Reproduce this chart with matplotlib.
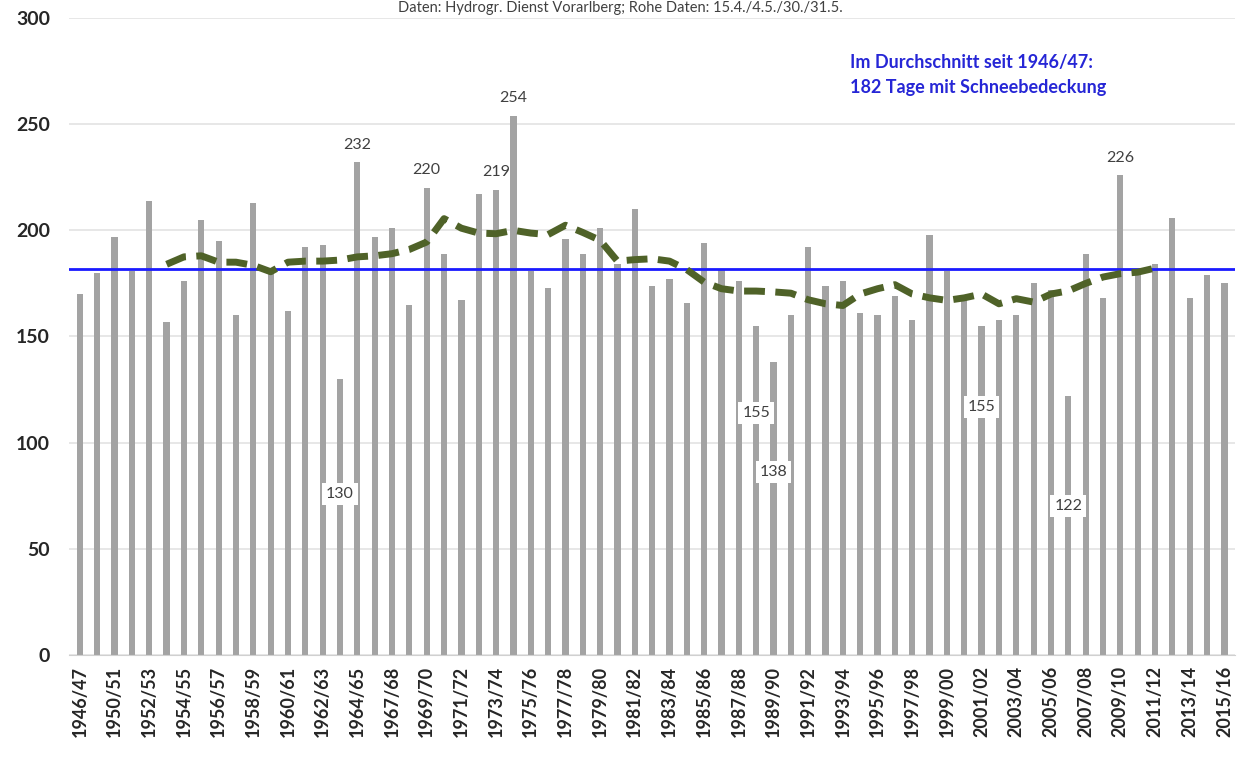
import matplotlib
matplotlib.use('Agg')
import matplotlib.pyplot as plt
import numpy as np

plt.rcParams['font.family'] = ['Lato', 'DejaVu Sans']

# Winter seasons (1947/48, 1948/49 and 1966/67 are not in the record)
seasons = ['1946/47', '1949/50', '1950/51', '1951/52', '1952/53', '1953/54', '1954/55',
           '1955/56', '1956/57', '1957/58', '1958/59', '1959/60', '1960/61', '1961/62',
           '1962/63', '1963/64', '1964/65', '1965/66', '1967/68', '1968/69', '1969/70',
           '1970/71', '1971/72', '1972/73', '1973/74', '1974/75', '1975/76', '1976/77',
           '1977/78', '1978/79', '1979/80', '1980/81', '1981/82', '1982/83', '1983/84',
           '1984/85', '1985/86', '1986/87', '1987/88', '1988/89', '1989/90', '1990/91',
           '1991/92', '1992/93', '1993/94', '1994/95', '1995/96', '1996/97', '1997/98',
           '1998/99', '1999/00', '2000/01', '2001/02', '2002/03', '2003/04', '2004/05',
           '2005/06', '2006/07', '2007/08', '2008/09', '2009/10', '2010/11', '2011/12',
           '2012/13', '2013/14', '2014/15', '2015/16']

# days with snow cover
days = [170, 180, 197, 181, 214, 157, 176, 205, 195, 160,
        213, 181, 162, 192, 193, 130, 232, 197, 201, 165,
        220, 189, 167, 217, 219, 254, 181, 173, 196, 189,
        201, 184, 210, 174, 177, 166, 194, 182, 176, 155,
        138, 160, 192, 174, 176, 161, 160, 169, 158, 198,
        181, 167, 155, 158, 160, 175, 172, 122, 189, 168,
        226, 180, 184, 206, 168, 179, 175]

# smoothed trend (dashed line), seasons 1953/54 .. 2011/12
trend_start = 5
trend = [184, 187.5, 188, 185, 185, 183.5, 180.5, 185, 185.5, 185.5,
         186, 187.5, 188, 189, 191, 194.5, 205.5, 201, 198.7, 198.4,
         200, 198.7, 198, 202.4, 199, 195.3, 185.5, 186.2, 186.6, 185.5,
         181.5, 175.6, 172.5, 171.4, 171.4, 171, 170.4, 167.3, 165.4, 164.6,
         170, 172.5, 174.4, 170, 168.2, 167, 168.2, 170, 165.4, 167.8,
         166.2, 170, 171.5, 175, 178, 179.6, 180.3, 182.2]

mean_days = 182

# labelled extremes: above the bar, or boxed inside the bar at the given height
top_labels = ['1964/65', '1969/70', '1973/74', '1974/75', '2009/10']
low_labels = {'1963/64': 76, '1988/89': 114, '1989/90': 86, '2001/02': 117, '2006/07': 70}

x = np.arange(len(seasons))

fig = plt.figure(figsize=(12.41, 7.62), dpi=100)
ax = fig.add_axes([0.056, 0.1404, 0.939, 0.836])

ax.bar(x, days, width=0.36, color='#a3a3a3', zorder=2)
ax.plot(x[trend_start:trend_start + len(trend)], trend, color='#4f6228',
        linewidth=5, linestyle=(0, (3.0, 1.5)), zorder=4)
ax.axhline(mean_days, color='#1a1aff', linewidth=2, zorder=3)

for s in top_labels:
    i = seasons.index(s)
    ax.text(x[i], days[i] + 5, str(days[i]), ha='center', va='bottom',
            fontsize=11.5, color='#404040', zorder=5)

for s, ypos in low_labels.items():
    i = seasons.index(s)
    ax.text(x[i], ypos, str(days[i]), ha='center', va='center', fontsize=11.5,
            color='#404040', zorder=5,
            bbox=dict(boxstyle='square,pad=0.25', facecolor='white', edgecolor='none'))

ax.text(44.4, 283, 'Im Durchschnitt seit 1946/47:\n182 Tage mit Schneebedeckung',
        ha='left', va='top', fontsize=13, fontweight='bold', color='#2626d6',
        linespacing=1.55, zorder=5)

ax.set_xlim(-0.6, 66.6)
ax.set_ylim(0, 300)
ax.set_yticks(np.arange(0, 301, 50))
ax.set_xticks(x[::2])
ax.set_xticklabels(seasons[::2], rotation=90, fontsize=13, fontweight='bold',
                   color='#262626')
for lab in ax.get_yticklabels():
    lab.set_fontsize(14)
    lab.set_fontweight('bold')
    lab.set_color('#262626')

ax.grid(axis='y', color='#e3e3e3', linewidth=1.2, zorder=0)
ax.set_axisbelow(True)
for side in ['top', 'right', 'left']:
    ax.spines[side].set_visible(False)
ax.spines['bottom'].set_color('#d0d0d0')
ax.tick_params(axis='y', length=0, pad=14)
ax.tick_params(axis='x', length=0, pad=8)

# source line at the top edge
fig.text(0.5, 0.999, 'Daten: Hydrogr. Dienst Vorarlberg; Rohe Daten: 15.4./4.5./30./31.5.',
         ha='center', va='top', fontsize=10.5, color='#404040')

fig.savefig('out.png', dpi=100)
